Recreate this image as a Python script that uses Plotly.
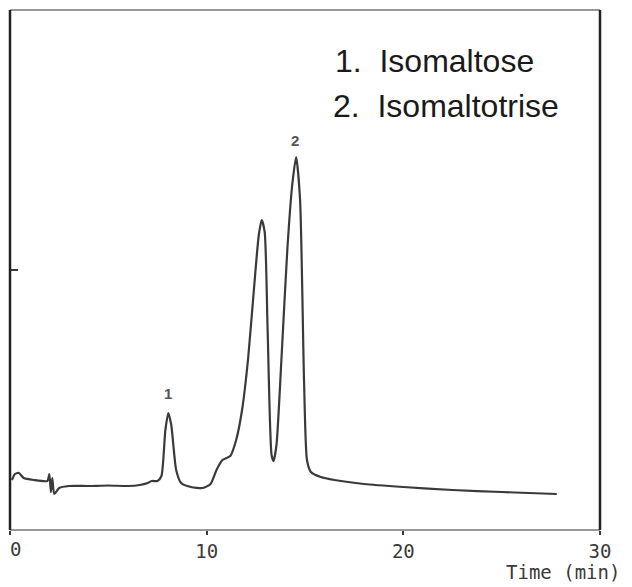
import plotly.graph_objects as go

# Chromatogram trace (time in min, detector response in arbitrary units)
time_min = [0.1, 0.25, 0.45, 0.7, 1.2, 1.9, 2.0, 2.08, 2.15, 2.25, 2.5, 3.0, 4.0, 5.0, 6.0,
            6.6, 7.0, 7.2, 7.5, 7.7, 7.9, 8.05, 8.2, 8.45, 8.7, 9.2, 9.8, 10.2, 10.5, 10.8,
            11.2, 11.5, 11.8, 12.1, 12.4, 12.65, 12.8, 12.95, 13.1, 13.3, 13.4, 13.55, 13.8,
            14.1, 14.35, 14.55, 14.75, 14.95, 15.1, 15.3, 15.8, 16.5, 18.0, 20.0, 22.5, 25.0, 27.8]
response = [50, 56, 57, 52, 50, 49, 56, 38, 52, 36, 42, 44, 44, 44.5, 44,
            45, 47, 49, 49, 54, 100, 117, 105, 60, 47, 43, 42, 46, 60, 70,
            74, 90, 120, 170, 240, 295, 310, 298, 200, 75, 69, 85, 170,
            280, 345, 373, 330, 150, 70, 58, 53, 50, 46, 43, 40, 38, 36]

peak_labels = ["1", "2"]
peak_times = [8.05, 14.5]
peak_label_y = [137, 390]

legend_lines = ["1.  Isomaltose", "2.  Isomaltotrise"]

x_ticks = [0, 10, 20, 30]
x_ticklabels = ["0", "10", "20", "30"]
x_title = "Time (min)"

ink = "#3a3a3a"

# page body adds an 8px offset; plot frame should land at x 10..600, y 10..530
OFF = 8
PL, PT, PW, PH = 10, 10, 590, 520

fig = go.Figure()
fig.add_trace(go.Scatter(x=time_min, y=response, mode="lines",
                         line=dict(color=ink, width=2.2, shape="spline", smoothing=0.6),
                         hoverinfo="x+y", showlegend=False))

for lab, t, yv in zip(peak_labels, peak_times, peak_label_y):
    fig.add_annotation(x=t, y=yv, text="<b>" + lab + "</b>", showarrow=False,
                       font=dict(family="Liberation Sans", size=15, color="#555555"))

legend_y_px = [61, 106]
legend_x_px = [333, 331]
for txt, ypx, xpx in zip(legend_lines, legend_y_px, legend_x_px):
    fig.add_annotation(xref="paper", yref="paper", x=(xpx - PL) / PW, y=(PT + PH - ypx) / PH,
                       text=txt, showarrow=False, xanchor="left", yanchor="middle",
                       font=dict(family="Liberation Sans", size=32, color="#1a1a1a"))

fig.add_annotation(xref="paper", yref="paper", x=(622 - PL) / PW, y=(PT + PH - 572) / PH,
                   text=x_title, showarrow=False, xanchor="right", yanchor="middle",
                   font=dict(family="DejaVu Sans Mono", size=19, color=ink))

# the first tick label sits at the very page edge; draw it left-anchored so it stays visible
tick_font = dict(family="DejaVu Sans Mono", size=19, color=ink)
fig.add_annotation(xref="paper", yref="paper", x=-(PL - OFF) / PW, y=(PT + PH - 549) / PH,
                   text=x_ticklabels[0], showarrow=False, xanchor="left", yanchor="middle",
                   font=tick_font)

# frame
fig.add_shape(type="line", xref="paper", yref="paper", x0=0, x1=1, y0=1, y1=1,
              line=dict(color="#777777", width=1.5))
fig.add_shape(type="line", xref="paper", yref="paper", x0=0, x1=1, y0=0, y1=0,
              line=dict(color="#777777", width=1.5))
fig.add_shape(type="line", xref="paper", yref="paper", x0=0, x1=0, y0=0, y1=1,
              line=dict(color="#222222", width=2.5))
fig.add_shape(type="line", xref="paper", yref="paper", x0=1, x1=1, y0=0, y1=1,
              line=dict(color="#222222", width=2.5))

W, H = 632 - OFF, 587 - OFF
fig.update_layout(
    width=W, height=H,
    margin=dict(l=PL - OFF, r=W - (PL - OFF) - PW, t=PT - OFF, b=H - (PT - OFF) - PH),
    paper_bgcolor="white", plot_bgcolor="white",
    xaxis=dict(range=[0, 30], tickvals=x_ticks,
               ticktext=[""] + x_ticklabels[1:], automargin=False,
               ticks="outside", ticklen=4, tickwidth=1.5, tickcolor=ink,
               showgrid=False, zeroline=False, showline=False,
               tickfont=tick_font),
    yaxis=dict(range=[0, 520], tickvals=[260], showticklabels=False, automargin=False,
               ticks="inside", ticklen=8, tickwidth=1.5, tickcolor=ink,
               showgrid=False, zeroline=False, showline=False),
)

fig.write_html("out.html")
